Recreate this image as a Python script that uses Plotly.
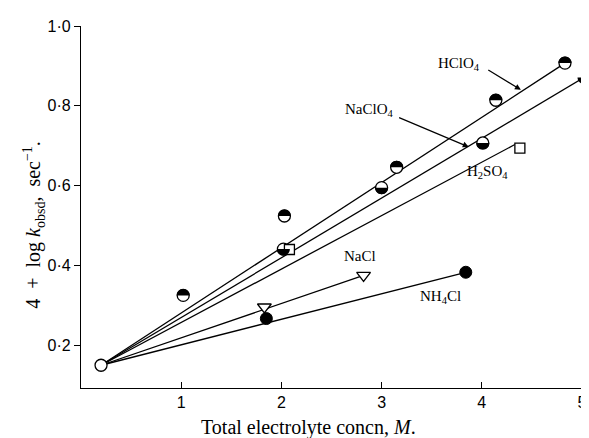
import plotly.graph_objects as go

# ---- data ----
origin_x = [0.2]
origin_y = [0.15]

hclo4_x = [1.02, 2.03, 3.15, 4.14, 4.83]
hclo4_y = [0.325, 0.524, 0.646, 0.814, 0.907]

naclo4_x = [2.02, 3.00, 4.01, 5.02]
naclo4_y = [0.441, 0.595, 0.707, 0.871]

h2so4_x = [2.08, 4.38]
h2so4_y = [0.440, 0.694]

nacl_x = [1.83, 2.82]
nacl_y = [0.296, 0.375]

nh4cl_x = [1.85, 3.84]
nh4cl_y = [0.267, 0.383]

# fitted straight lines: start / end
line_names = ["HClO4", "NaClO4", "H2SO4", "NaCl", "NH4Cl"]
line_x0 = [0.2, 0.2, 0.2, 0.2, 0.2]
line_y0 = [0.15, 0.15, 0.15, 0.15, 0.15]
line_x1 = [4.83, 5.02, 4.33, 2.82, 3.84]
line_y1 = [0.907, 0.871, 0.703, 0.375, 0.383]

x_ticks = [1, 2, 3, 4, 5]
y_ticks = [0.2, 0.4, 0.6, 0.8, 1.0]
y_ticktext = ["0·2", "0·4", "0·6", "0·8", "1·0"]

fig = go.Figure()

for i in range(len(line_names)):
    fig.add_trace(go.Scatter(
        x=[line_x0[i], line_x1[i]], y=[line_y0[i], line_y1[i]],
        mode="lines", line=dict(color="black", width=1.3),
        cliponaxis=False, showlegend=False, hoverinfo="skip"))

open_marker = dict(symbol="circle", size=12, color="white",
                   line=dict(color="black", width=1.3))

fig.add_trace(go.Scatter(x=hclo4_x, y=hclo4_y, mode="markers",
                         marker=open_marker, cliponaxis=False,
                         showlegend=False))
fig.add_trace(go.Scatter(x=naclo4_x, y=naclo4_y, mode="markers",
                         marker=open_marker, cliponaxis=False,
                         showlegend=False))
fig.add_trace(go.Scatter(x=origin_x, y=origin_y, mode="markers",
                         marker=open_marker, cliponaxis=False,
                         showlegend=False))
fig.add_trace(go.Scatter(
    x=h2so4_x, y=h2so4_y, mode="markers",
    marker=dict(symbol="square", size=10, color="white",
                line=dict(color="black", width=1.3)),
    cliponaxis=False, showlegend=False))
fig.add_trace(go.Scatter(
    x=nacl_x, y=nacl_y, mode="markers",
    marker=dict(symbol="triangle-down", size=12, color="white",
                line=dict(color="black", width=1.3)),
    cliponaxis=False, showlegend=False))
fig.add_trace(go.Scatter(
    x=nh4cl_x, y=nh4cl_y, mode="markers",
    marker=dict(symbol="circle", size=12, color="black",
                line=dict(color="black", width=1)),
    cliponaxis=False, showlegend=False))

# half-filled circles (top half for HClO4, bottom half for NaClO4),
# anchored at the data points, sized in pixels
R = 6.5
K = 0.5523 * R


def half_path(sign):
    s = sign
    return (f"M {-R},0 C {-R},{s*K} {-K},{s*R} 0,{s*R} "
            f"C {K},{s*R} {R},{s*K} {R},0 Z")


for xs, ys, sgn in [(hclo4_x, hclo4_y, 1), (naclo4_x, naclo4_y, -1)]:
    for xv, yv in zip(xs, ys):
        fig.add_shape(type="path", xref="x", yref="y",
                      xsizemode="pixel", ysizemode="pixel",
                      xanchor=xv, yanchor=yv, path=half_path(sgn),
                      fillcolor="black", line=dict(width=0), layer="above")

serif = "Liberation Serif"
lab_font = dict(family=serif, size=15, color="black")

labels = [
    ("HClO<sub>4</sub>", 3.77, 0.906),
    ("NaClO<sub>4</sub>", 2.88, 0.790),
    ("H<sub>2</sub>SO<sub>4</sub>", 4.06, 0.633),
    ("NaCl", 2.78, 0.424),
    ("NH<sub>4</sub>Cl", 3.59, 0.322),
]
for t, x, y in labels:
    fig.add_annotation(x=x, y=y, text=t, showarrow=False, font=lab_font)

arrows = [
    (4.05, 0.892, 4.39, 0.840),
    (3.16, 0.772, 3.87, 0.697),
]
for ax_, ay_, x, y in arrows:
    fig.add_annotation(x=x, y=y, ax=ax_, ay=ay_, axref="x", ayref="y",
                       text="", showarrow=True, arrowhead=2, arrowsize=1,
                       arrowwidth=1.2, arrowcolor="black")

# axis titles
NB = "\u00a0"
fig.add_annotation(xref="paper", yref="paper", x=-0.093, y=0.452,
                   xanchor="center", yanchor="middle",
                   text=f"4{NB}{NB}+{NB}{NB}log{NB}<i>k</i><sub>obsd</sub>,{NB}{NB}sec<sup>−1</sup>.",
                   textangle=-90, showarrow=False,
                   font=dict(family=serif, size=20, color="black"))
fig.add_annotation(xref="paper", yref="paper", x=0.455, y=-0.108,
                   xanchor="center", yanchor="middle",
                   text="Total electrolyte concn, <i>M</i>.",
                   showarrow=False,
                   font=dict(family=serif, size=20, color="black"))

fig.update_xaxes(range=[0, 5], tickvals=x_ticks, ticks="inside", ticklen=6,
                 tickwidth=1.2, tickcolor="black", showline=True,
                 linecolor="black", linewidth=1.3, showgrid=False,
                 zeroline=False,
                 tickfont=dict(family="Liberation Sans", size=16, color="black"))
fig.update_yaxes(range=[0.093, 1.0], tickvals=y_ticks, ticktext=y_ticktext,
                 ticks="outside", ticklen=6, tickwidth=1.2, tickcolor="black",
                 showline=True, linecolor="black", linewidth=1.3,
                 showgrid=False, zeroline=False,
                 tickfont=dict(family="Liberation Sans", size=16, color="black"))

fig.update_layout(width=589, height=438,
                  margin=dict(l=73, r=10, t=15, b=58),
                  plot_bgcolor="white", paper_bgcolor="white")

fig.write_html("out.html")
